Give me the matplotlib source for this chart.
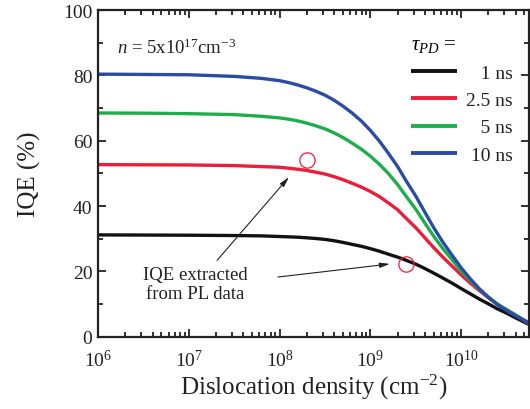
import matplotlib
matplotlib.use('Agg')
import matplotlib.pyplot as plt
from matplotlib.ticker import LogLocator, MultipleLocator, LogFormatterMathtext, NullFormatter

plt.rcParams['font.family'] = ['Liberation Serif', 'DejaVu Serif']
plt.rcParams['mathtext.fontset'] = 'custom'
plt.rcParams['mathtext.rm'] = 'Liberation Serif'
plt.rcParams['mathtext.it'] = 'Liberation Serif:italic'
plt.rcParams['mathtext.bf'] = 'Liberation Serif:bold'

# Dislocation density (cm^-2)
density = [1e6, 3.2e6, 1e7, 3.2e7, 6.3e7, 1e8, 1.26e8, 1.58e8, 2e8, 2.5e8, 3.2e8,
           4e8, 5e8, 6.3e8, 8e8, 1e9, 1.26e9, 1.58e9, 2e9, 2.5e9, 3.2e9, 4e9,
           5e9, 6.3e9, 8e9, 1e10, 1.26e10, 1.58e10, 2e10, 2.5e10, 3.2e10, 4e10, 5.6e10]

# IQE (%) for each tau_PD
iqe_1ns = [31.2, 31.15, 31.1, 31.0, 30.9, 30.7, 30.6, 30.5, 30.3, 30.1, 29.8,
           29.4, 28.9, 28.3, 27.7, 27.0, 26.2, 25.3, 24.4, 23.4, 22.2, 20.9,
           19.5, 18.0, 16.4, 14.8, 13.2, 11.6, 10.1, 8.6, 7.2, 5.8, 3.8]
iqe_2p5ns = [52.7, 52.65, 52.6, 52.4, 52.1, 51.9, 51.6, 51.3, 50.9, 50.4, 49.8,
             49.0, 48.1, 47.0, 45.8, 44.5, 42.9, 41.0, 38.9, 36.2, 33.3, 30.3,
             27.3, 24.4, 21.6, 19.0, 16.5, 14.2, 12.0, 10.0, 8.2, 6.6, 4.1]
iqe_5ns = [68.5, 68.45, 68.3, 68.0, 67.5, 67.0, 66.6, 66.1, 65.4, 64.6, 63.6,
           62.4, 61.0, 59.3, 57.4, 55.3, 52.8, 50.0, 46.6, 42.9, 38.9, 34.8,
           30.8, 27.0, 23.5, 20.2, 17.3, 14.6, 12.2, 10.1, 8.3, 6.7, 4.2]
iqe_10ns = [80.4, 80.3, 80.2, 79.7, 79.1, 78.4, 77.8, 77.1, 76.2, 75.2, 73.9,
            72.4, 70.6, 68.5, 66.0, 63.2, 59.9, 56.2, 52.1, 47.6, 42.9, 38.1,
            33.4, 29.0, 24.9, 21.2, 17.8, 14.8, 12.1, 9.9, 8.0, 6.4, 4.3]

series_labels = ['   1 ns', '2.5 ns', '   5 ns', ' 10 ns']
series_colors = ['#111111', '#ED1C3A', '#1DAE4B', '#2B4CA6']

# PL-extracted points
pl_density = [2.0e8, 2.45e9]
pl_iqe = [54.0, 22.3]

fig = plt.figure(figsize=(5.3, 4.1), dpi=100)
ax = fig.add_axes([0.185, 0.176, 0.813, 0.797])

for ys, lab, col in zip([iqe_1ns, iqe_2p5ns, iqe_5ns, iqe_10ns], series_labels, series_colors):
    ax.plot(density, ys, color=col, lw=2.4, label=lab, solid_capstyle='butt',
            solid_joinstyle='round')

ax.plot(pl_density, pl_iqe, linestyle='none', marker='o', ms=11, mfc='none',
        mec='#ED1C3A', mew=0.9)

ax.set_xscale('log')
ax.set_xlim(1e6, 5.6e10)
ax.set_ylim(0, 100)

ax.xaxis.set_major_locator(LogLocator(base=10, numticks=10))
ax.xaxis.set_minor_locator(LogLocator(base=10, subs=range(2, 10), numticks=20))
ax.xaxis.set_major_formatter(LogFormatterMathtext())
ax.xaxis.set_minor_formatter(NullFormatter())
ax.yaxis.set_major_locator(MultipleLocator(20))
ax.yaxis.set_minor_locator(MultipleLocator(10))

ax.tick_params(which='both', direction='in', top=True, right=True, width=1.3,
               labelsize=14, colors='#222222')
ax.tick_params(which='major', length=6, pad=4)
ax.tick_params(axis='x', which='major', pad=9)
ax.tick_params(which='minor', length=3.5)
for s in ax.spines.values():
    s.set_linewidth(1.6)
    s.set_color('#222222')

ax.set_xlabel('Dislocation density (cm$^{-2}$)', fontsize=18, labelpad=1, color='#222222')
ax.set_ylabel('IQE (%)', fontsize=18, labelpad=16, color='#222222')

ax.text(0.045, 0.885, r'$n$ = 5x10$^{17}$cm$^{-3}$', transform=ax.transAxes,
        fontsize=13.5, color='#222222', va='center')

leg = ax.legend(loc='upper right', bbox_to_anchor=(0.99, 0.958), frameon=False,
                fontsize=14, title=r'$\tau_{PD}$ =', title_fontsize=15,
                handlelength=2.4, handletextpad=0.45, labelspacing=0.5,
                alignment='left', borderaxespad=0.2)
for t in leg.get_texts():
    t.set_color('#222222')
for h in leg.get_lines():
    h.set_linewidth(2.8)

ax.annotate('', xy=(1.27e8, 48.9), xytext=(2.05e7, 23.4),
            arrowprops=dict(arrowstyle='-|>,head_length=0.6,head_width=0.15', lw=0.8,
                            color='#222222', shrinkA=0, shrinkB=0))
ax.annotate('', xy=(1.65e9, 22.3), xytext=(9.6e7, 18.3),
            arrowprops=dict(arrowstyle='-|>,head_length=0.6,head_width=0.15', lw=0.8,
                            color='#222222', shrinkA=0, shrinkB=0))
ax.text(1.17e7, 16.2, 'IQE extracted\nfrom PL data', ha='center', va='center',
        fontsize=13.5, color='#222222', linespacing=1.2)

fig.savefig('out.png', dpi=100)
